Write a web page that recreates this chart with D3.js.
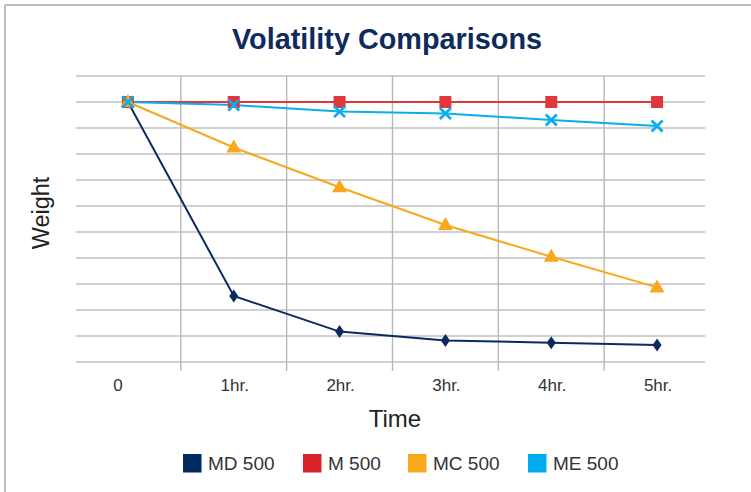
<!DOCTYPE html>
<html>
<head>
<meta charset="utf-8">
<script src="https://cdn.jsdelivr.net/npm/d3@7"></script>
<style>
  html, body { margin: 0; padding: 0; background: #fff; }
  svg { display: block; }
  text { font-family: "Liberation Sans", Arial, sans-serif; }
</style>
</head>
<body>
<svg id="chart" width="751" height="492"></svg>
<script>
const categories = ["0", "1hr.", "2hr.", "3hr.", "4hr.", "5hr."];
const seriesNames = ["MD 500", "M 500", "MC 500", "ME 500"];
const md500 = [10, 2.54, 1.17, 0.83, 0.74, 0.65];
const m500  = [10, 10, 10, 10, 10, 10];
const mc500 = [10, 8.25, 6.72, 5.27, 4.05, 2.87];
const me500 = [10, 9.88, 9.63, 9.56, 9.31, 9.08];
const yTicks = [0, 1, 2, 3, 4, 5, 6, 7, 8, 9, 10, 11];
const title = "Volatility Comparisons";
const xTitle = "Time";
const yTitle = "Weight";

const series = [
  { name: seriesNames[0], values: md500, line: "#0b2a63", legend: "#00295f", marker: "diamond" },
  { name: seriesNames[1], values: m500,  line: "#e0363d", legend: "#d7242b", marker: "square" },
  { name: seriesNames[2], values: mc500, line: "#f9a81c", legend: "#f9a81c", marker: "triangle" },
  { name: seriesNames[3], values: me500, line: "#0aaeea", legend: "#00aeef", marker: "cross" }
];

const svg = d3.select("#chart");

// frame
svg.append("line").attr("x1", 5).attr("x2", 5).attr("y1", 5).attr("y2", 492)
  .attr("stroke", "#bdbdbd").attr("stroke-width", 2);
svg.append("line").attr("x1", 5).attr("x2", 751).attr("y1", 5).attr("y2", 5)
  .attr("stroke", "#bdbdbd").attr("stroke-width", 2);

const pLeft = 75, pRight = 710, pTop = 76, pBottom = 362;

const xBand = d3.scaleBand().domain(categories).range([pLeft, pRight]).paddingInner(0).paddingOuter(0);
const x = d3.scalePoint().domain(categories).range([pLeft, pRight]).padding(0.5);
const y = d3.scaleLinear().domain([0, 11]).range([pBottom, pTop]);

// horizontal gridlines
svg.append("g").selectAll("line").data(yTicks).join("line")
  .attr("x1", pLeft + 1).attr("x2", 705)
  .attr("y1", d => y(d)).attr("y2", d => y(d))
  .attr("stroke", "#c0c0c0").attr("stroke-width", 1.6);

// vertical gridlines (category boundaries)
svg.append("g").selectAll("line").data(categories.slice(1)).join("line")
  .attr("x1", d => xBand(d)).attr("x2", d => xBand(d))
  .attr("y1", pTop).attr("y2", pBottom + 9)
  .attr("stroke", "#b8b8b8").attr("stroke-width", 1.4);

// x tick labels
svg.append("g").selectAll("text").data(categories).join("text")
  .attr("x", d => x(d)).attr("y", 391)
  .attr("dx", (d, i) => i === 0 ? -10 : 1)
  .attr("text-anchor", "middle")
  .attr("font-size", 17).attr("fill", "#333")
  .text(d => d);

// axis titles
svg.append("text").attr("x", 395).attr("y", 427).attr("text-anchor", "middle")
  .attr("font-size", 24).attr("fill", "#222").text(xTitle);
svg.append("text").attr("transform", "translate(49,213) rotate(-90)").attr("text-anchor", "middle")
  .attr("font-size", 23.5).attr("fill", "#222").text(yTitle);

// title
svg.append("text").attr("x", 387).attr("y", 49).attr("text-anchor", "middle")
  .attr("font-family", "'Liberation Sans Narrow', 'Liberation Sans', Arial, sans-serif")
  .attr("font-weight", "bold").attr("font-size", 29).attr("fill", "#0e2b5c")
  .attr("textLength", 310).attr("lengthAdjust", "spacingAndGlyphs")
  .text(title);

// lines
const lineGen = d3.line().x((d, i) => x(categories[i])).y(d => y(d));
series.forEach(s => {
  svg.append("path").datum(s.values)
    .attr("d", lineGen).attr("fill", "none")
    .attr("stroke", s.line).attr("stroke-width", 2);
});

// markers
series.forEach(s => {
  const g = svg.append("g");
  s.values.forEach((v, i) => {
    const cx = x(categories[i]), cy = y(v);
    if (s.marker === "square") {
      g.append("rect").attr("x", cx - 6).attr("y", cy - 6).attr("width", 12).attr("height", 12).attr("fill", s.line);
    } else if (s.marker === "diamond") {
      g.append("path").attr("d", `M${cx},${cy - 6.5}L${cx + 4.5},${cy}L${cx},${cy + 6.5}L${cx - 4.5},${cy}Z`).attr("fill", s.line);
    } else if (s.marker === "triangle") {
      g.append("path").attr("d", `M${cx},${cy - 8}L${cx + 7.5},${cy + 5}L${cx - 7.5},${cy + 5}Z`).attr("fill", s.line);
    } else if (s.marker === "cross") {
      g.append("path").attr("d", `M${cx - 5.5},${cy - 5.5}L${cx + 5.5},${cy + 5.5}M${cx + 5.5},${cy - 5.5}L${cx - 5.5},${cy + 5.5}`)
        .attr("stroke", s.line).attr("stroke-width", 2.8).attr("fill", "none");
    }
  });
});

// legend
const legendX = [183, 303, 408, 528];
const lg = svg.append("g");
series.forEach((s, i) => {
  lg.append("rect").attr("x", legendX[i]).attr("y", 454).attr("width", 18.5).attr("height", 18.5).attr("fill", s.legend);
  lg.append("text").attr("x", legendX[i] + 25).attr("y", 469.5).attr("font-size", 19).attr("fill", "#333").text(s.name);
});
</script>
</body>
</html>
